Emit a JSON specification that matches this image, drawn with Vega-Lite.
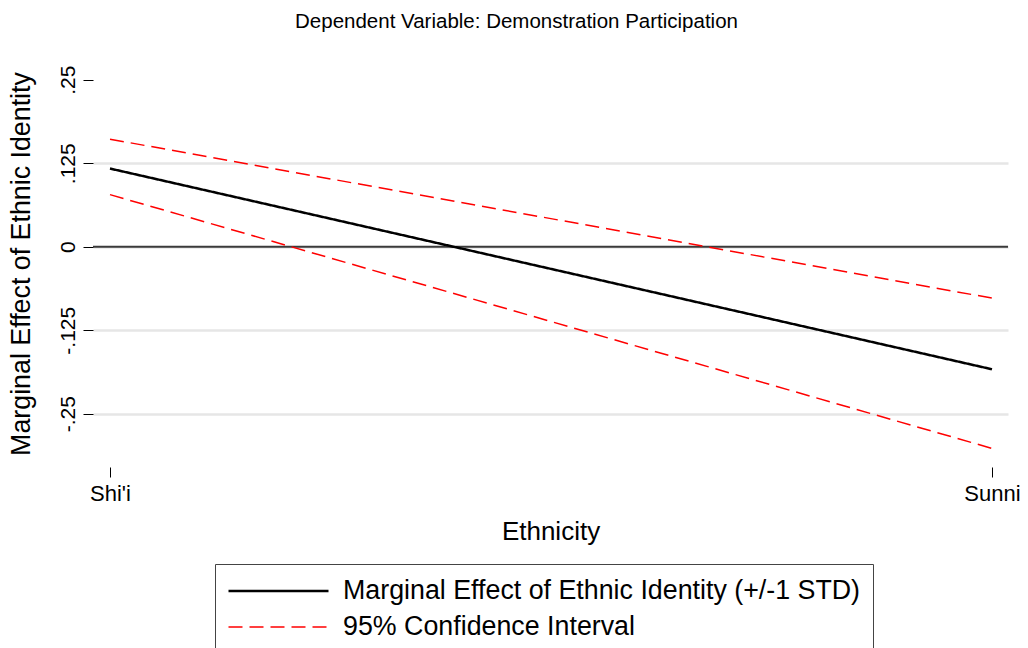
{
  "$schema": "https://vega.github.io/schema/vega-lite/v6.json",
  "autosize": {"type": "none"},
  "width": 915,
  "height": 407,
  "padding": {"left": 93, "top": 60, "right": 20, "bottom": 181},
  "background": "white",
  "config": {
    "view": {"stroke": null},
    "font": "Liberation Sans",
    "legend": {
      "strokeColor": "#444444",
      "fillColor": "white",
      "padding": 12,
      "symbolType": "stroke",
      "symbolSize": 10000,
      "clipHeight": 30,
      "rowPadding": 6,
      "labelFontSize": 26.8,
      "labelFont": "Liberation Sans",
      "labelColor": "black",
      "labelOffset": 13,
      "labelLimit": 900
    }
  },
  "title": {
    "text": "Dependent Variable: Demonstration Participation",
    "fontSize": 20.5,
    "fontWeight": "normal",
    "color": "black",
    "font": "Liberation Sans",
    "anchor": "middle",
    "dx": -34,
    "offset": 28
  },
  "encoding": {
    "y": {
      "field": "value",
      "type": "quantitative",
      "scale": {"domain": [-0.3298, 0.2795], "nice": false, "zero": false},
      "axis": {
        "title": "Marginal Effect of Ethnic Identity",
        "titleFontSize": 26.8,
        "titleFontWeight": "normal",
        "titleColor": "black",
        "titlePadding": 22,
        "values": [-0.25, -0.125, 0, 0.125, 0.25],
        "labelExpr": "datum.value == 0.25 ? '.25' : datum.value == 0.125 ? '.125' : datum.value == 0 ? '0' : datum.value == -0.125 ? '-.125' : '-.25'",
        "labelAngle": -90,
        "labelAlign": "center",
        "labelBaseline": "bottom",
        "labelFontSize": 21,
        "labelColor": "black",
        "labelPadding": 5,
        "tickSize": 10,
        "tickColor": "black",
        "tickWidth": 1,
        "domain": false,
        "grid": true,
        "gridColor": {"condition": {"test": "datum.value == 0.25", "value": "transparent"}, "value": "#e6e6e6"},
        "gridWidth": 2.5
      }
    }
  },
  "layer": [
    {
      "data": {"values": [{"value": 0}]},
      "mark": {"type": "rule", "color": "#3a3a3a", "strokeWidth": 2}
    },
    {
      "data": {
        "values": [
          {"x": 0, "ethnicity": "Shi'i", "series": "Marginal Effect of Ethnic Identity (+/-1 STD)", "bound": "estimate", "value": 0.117},
          {"x": 1, "ethnicity": "Sunni", "series": "Marginal Effect of Ethnic Identity (+/-1 STD)", "bound": "estimate", "value": -0.1835},
          {"x": 0, "ethnicity": "Shi'i", "series": "95% Confidence Interval", "bound": "upper", "value": 0.161},
          {"x": 1, "ethnicity": "Sunni", "series": "95% Confidence Interval", "bound": "upper", "value": -0.077},
          {"x": 0, "ethnicity": "Shi'i", "series": "95% Confidence Interval", "bound": "lower", "value": 0.078},
          {"x": 1, "ethnicity": "Sunni", "series": "95% Confidence Interval", "bound": "lower", "value": -0.302}
        ]
      },
      "mark": {"type": "line"},
      "encoding": {
        "x": {
          "field": "x",
          "type": "quantitative",
          "scale": {"domain": [-0.01927, 1.01814], "nice": false, "zero": false},
          "axis": {
            "title": "Ethnicity",
            "titleFontSize": 26,
            "titleFontWeight": "normal",
            "titleColor": "black",
            "titlePadding": 14,
            "values": [0, 1],
            "labelExpr": "datum.value == 0 ? \"Shi'i\" : \"Sunni\"",
            "labelFontSize": 22,
            "labelColor": "black",
            "labelPadding": 6,
            "labelFlush": false,
            "tickSize": 10,
            "tickColor": "black",
            "domain": false,
            "grid": false
          }
        },
        "detail": {"field": "bound"},
        "color": {
          "field": "series",
          "type": "nominal",
          "scale": {"domain": ["Marginal Effect of Ethnic Identity (+/-1 STD)", "95% Confidence Interval"], "range": ["#000000", "#ff0000"]},
          "legend": {"title": null, "orient": "none", "legendX": 122, "legendY": 504}
        },
        "strokeDash": {
          "field": "series",
          "type": "nominal",
          "scale": {"domain": ["Marginal Effect of Ethnic Identity (+/-1 STD)", "95% Confidence Interval"], "range": [[1, 0], [14, 7]]},
          "legend": {"title": null, "orient": "none", "legendX": 122, "legendY": 504}
        },
        "strokeWidth": {
          "field": "series",
          "type": "nominal",
          "scale": {"domain": ["Marginal Effect of Ethnic Identity (+/-1 STD)", "95% Confidence Interval"], "range": [2.5, 1.5]},
          "legend": {"title": null, "orient": "none", "legendX": 122, "legendY": 504}
        }
      }
    }
  ]
}
